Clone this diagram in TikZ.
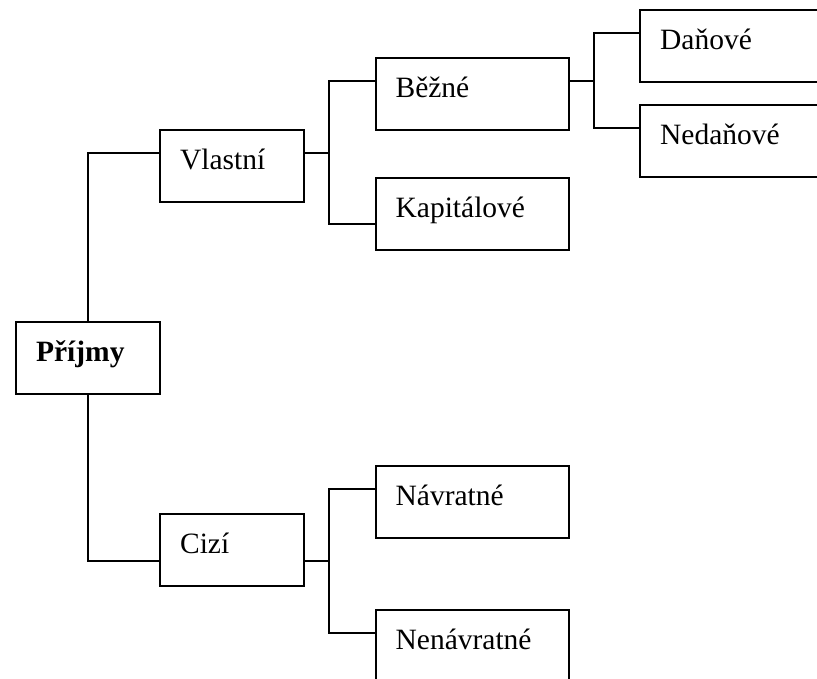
\documentclass[tikz,border=0pt]{standalone}
\usepackage{fontspec}
\setmainfont{Liberation Serif}
\usepackage{tikz}
\usetikzlibrary{positioning}
\tikzset{
  box/.style={draw, rectangle, anchor=north west, line width=2.2pt,
    inner xsep=20pt, inner ysep=0pt, text height=39pt, text depth=33pt,
    text width=104pt, align=left, font=\fontsize{29.5}{35}\selectfont},
  widebox/.style={box, text width=153pt},
  link/.style={line width=2.2pt}
}

\begin{document}
\begin{tikzpicture}[x=1pt, y=-1pt]
\useasboundingbox (0,0) rectangle (817,678);
\clip (0,0) rectangle (817,678);
\node [box] (prijmy) at (15,321) {\textbf{Příjmy}};
\node [box] (vlastni) at (159,129) {Vlastní};
\node [box] (cizi) at (159,513) {Cizí};
\node [widebox] (bezne) at (374.5,57) {Běžné};
\node [widebox] (kapital) at (374.5,177) {Kapitálové};
\node [widebox] (danove) at (639,9) {Daňové};
\node [widebox] (nedanove) at (639,104) {Nedaňové};
\node [widebox] (navratne) at (374.5,465) {Návratné};
\node [widebox] (nenavratne) at (374.5,609) {Nenávratné};

\draw[link] (prijmy.north) |- ([yshift=-24pt]vlastni.north west);
\draw[link] (prijmy.south) |- ([yshift=-48pt]cizi.north west);
\draw[link] ([yshift=-24pt]vlastni.north east) -- ++(24,0) |- ([yshift=-24pt]bezne.north west);
\draw[link] ([yshift=-24pt]vlastni.north east) -- ++(24,0) |- ([yshift=-47pt]kapital.north west);
\draw[link] ([yshift=-24pt]bezne.north east) -- ++(24,0) |- ([yshift=-24pt]danove.north west);
\draw[link] ([yshift=-24pt]bezne.north east) -- ++(24,0) |- ([yshift=-24pt]nedanove.north west);
\draw[link] ([yshift=-48pt]cizi.north east) -- ++(24,0) |- ([yshift=-24pt]navratne.north west);
\draw[link] ([yshift=-48pt]cizi.north east) -- ++(24,0) |- ([yshift=-24pt]nenavratne.north west);

\end{tikzpicture}
\end{document}
